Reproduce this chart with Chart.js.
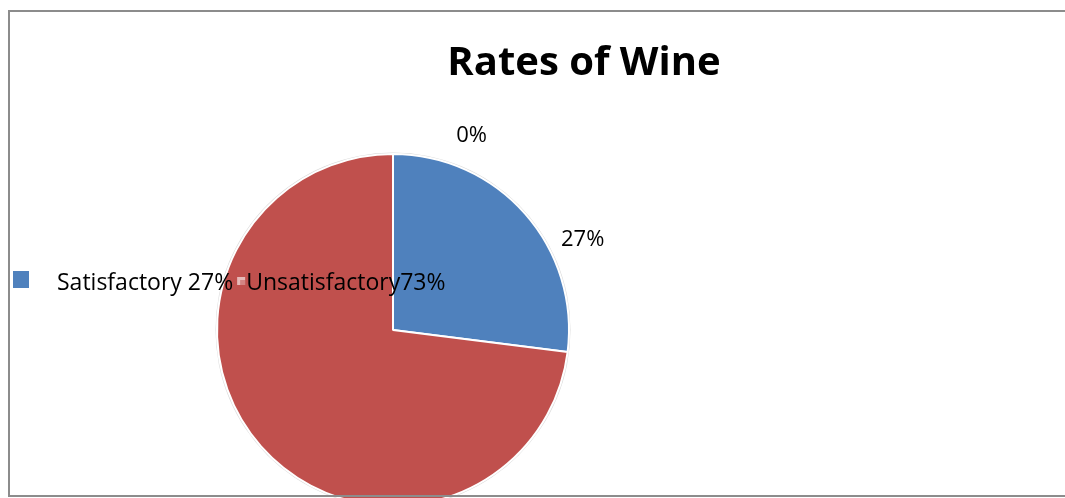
<!DOCTYPE html>
<html>
<head>
<meta charset="utf-8">
<title>Rates of Wine</title>
<script src="https://cdn.jsdelivr.net/npm/chart.js@4/dist/chart.umd.min.js"></script>
<style>
  html, body { margin: 0; padding: 0; background: #fff; overflow: hidden; }
  #wrap { width: 1065px; height: 498px; overflow: hidden; }
</style>
</head>
<body>
<div id="wrap"><canvas id="grafikWine" width="1065" height="510"></canvas></div>
<script>
// === DATA ===
const chartTitle = "Rates of Wine";
const labels = ["", "Satisfactory 27%", "Unsatisfactory73%"];
const values = [0, 27, 73];
const colors = ["#9bbb59", "#4f81bd", "#c0504d"];
const showPct = [true, true, false];   // label 73% tidak tampak di gambar
const pctShift = [22, 16, 0];          // geser sudut label (derajat)

const FONT = "'Open Sans', 'Liberation Sans', sans-serif";

// === PLUGIN: judul, bingkai, label persen, legenda ===
const wineDecor = {
  id: "wineDecor",
  beforeDatasetsDraw(chart) {
    // bayangan tipis di tepi pie
    const arc = chart.getDatasetMeta(0).data[1];
    if (!arc) return;
    const ctx = chart.ctx;
    ctx.save();
    ctx.beginPath();
    ctx.arc(arc.x, arc.y, arc.outerRadius + 1.5, 0, Math.PI * 2);
    ctx.fillStyle = "#d9d9d9";
    ctx.fill();
    ctx.restore();
  },
  afterDatasetsDraw(chart) {
    const ctx = chart.ctx;
    const meta = chart.getDatasetMeta(0);
    const total = values.reduce((a, b) => a + b, 0);

    ctx.save();
    // judul
    ctx.fillStyle = "#000";
    ctx.font = "bold 40px " + FONT;
    ctx.textAlign = "center";
    ctx.textBaseline = "alphabetic";
    ctx.fillText(chartTitle, 584, 75);

    // label persen di luar pie
    ctx.font = "22px " + FONT;
    ctx.textBaseline = "middle";
    meta.data.forEach((arc, i) => {
      if (!showPct[i]) return;
      const p = arc.getProps(["x", "y", "startAngle", "endAngle", "outerRadius"], true);
      const mid = (p.startAngle + p.endAngle) / 2 + pctShift[i] * Math.PI / 180;
      const r = p.outerRadius + 34;
      const pct = Math.round(values[i] / total * 100) + "%";
      ctx.fillText(pct, p.x + Math.cos(mid) * r, p.y + Math.sin(mid) * r);
    });

    // legenda (menimpa pie, seperti aslinya)
    ctx.font = "23px " + FONT;
    ctx.textAlign = "left";
    ctx.textBaseline = "alphabetic";
    const baseY = 290;
    ctx.fillStyle = colors[1];
    ctx.fillRect(13, 271, 16, 17);
    ctx.fillStyle = "#000";
    ctx.fillText(labels[1], 57, baseY);
    let x = 57 + ctx.measureText(labels[1]).width + 4;
    ctx.fillStyle = "rgba(255,255,255,0.6)";
    ctx.fillRect(x, 277, 8, 8);
    ctx.fillStyle = "rgba(192,80,77,0.5)";
    ctx.fillRect(x + 3, 280, 5, 5);
    ctx.fillStyle = "#000";
    ctx.fillText(labels[2], x + 9, baseY);

    // bingkai
    ctx.strokeStyle = "#8c8c8c";
    ctx.lineWidth = 2;
    ctx.beginPath();
    ctx.moveTo(1065, 11);
    ctx.lineTo(9, 11);
    ctx.lineTo(9, 496);
    ctx.lineTo(1065, 496);
    ctx.stroke();
    ctx.restore();
  }
};

new Chart(document.getElementById("grafikWine"), {
  type: "pie",
  data: {
    labels: labels,
    datasets: [{
      data: values,
      backgroundColor: colors,
      borderColor: "#ffffff",
      borderWidth: 2
    }]
  },
  options: {
    responsive: false,
    animation: false,
    layout: { padding: { left: 104, right: 383, top: 153, bottom: 3 } },
    plugins: {
      legend: { display: false },
      tooltip: { enabled: false },
      title: { display: false }
    }
  },
  plugins: [wineDecor]
});
</script>
</body>
</html>
